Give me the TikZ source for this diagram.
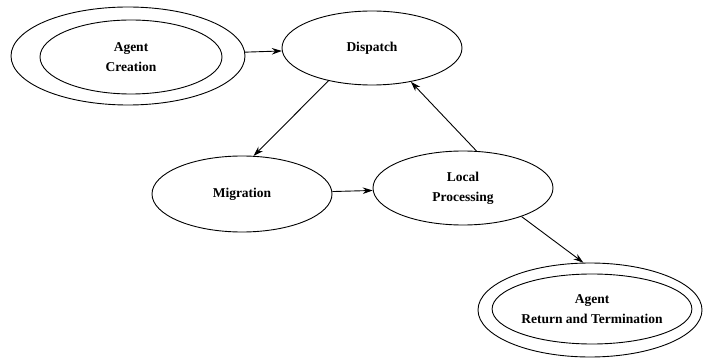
\documentclass[tikz,border=0pt]{standalone}
\usepackage{fontspec}
\setmainfont{Liberation Serif}
\usetikzlibrary{shapes.geometric,arrows.meta}
\begin{document}
\begin{tikzpicture}[x=1pt,y=-1pt,
  state/.style={ellipse,draw,line width=0.9pt,inner sep=0pt,align=center,
    font=\fontsize{13.5}{20}\selectfont\bfseries},
  rim/.style={ellipse,draw,line width=0.9pt,inner sep=0pt},
  flow/.style={line width=0.9pt,-{Stealth[length=10pt,width=6.5pt]}}]
\useasboundingbox (0,0) rectangle (704,358);
% Agent creation (double ellipse)
\node[rim,minimum width=234pt,minimum height=98pt] (crOut) at (128,56) {};
\node[state,minimum width=182pt,minimum height=74pt] (cr) at (131,57) {Agent\\Creation};
% Main cycle
\node[state,minimum width=180pt,minimum height=74pt] (disp) at (372,48) {Dispatch};
\node[state,minimum width=180pt,minimum height=76pt] (mig) at (242,194) {Migration};
\node[state,minimum width=180pt,minimum height=74pt] (loc) at (463,188) {Local\\Processing};
% Agent return (double ellipse)
\node[rim,minimum width=224pt,minimum height=94pt] (retOut) at (590,310) {};
\node[state,minimum width=184pt,minimum height=70pt] (ret) at (592,309) {Agent\\Return and Termination};
% Connectors
\draw[flow] (crOut) -- (disp);
\draw[flow] (disp.217) -- (mig.73);
\draw[flow] (mig) -- (loc);
\draw[flow] (loc.70) -- (disp.-41);
\draw[flow] (loc.-26) -- (retOut.98);
\end{tikzpicture}
\end{document}
